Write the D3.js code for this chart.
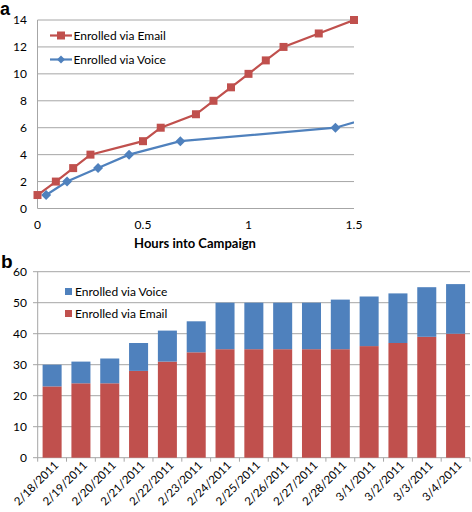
<!DOCTYPE html>
<html><head><meta charset="utf-8">
<script src="https://cdn.jsdelivr.net/npm/d3@7"></script>
<style>body{margin:0;background:#fff}svg{display:block;font-family:Lato,"Open Sans",sans-serif}</style>
</head><body>
<script>
// Panel a data
const emailHours = [0,0.087,0.169,0.251,0.50,0.584,0.751,0.834,0.917,1.0,1.082,1.166,1.333,1.5];
const emailCount = [1,2,3,4,5,6,7,8,9,10,11,12,13,14];
const voiceHours = [0.041,0.14,0.287,0.434,0.677,1.412,1.63];
const voiceCount = [1,2,3,4,5,6,7];
const xTicksA = [0,0.5,1,1.5];
const yTicksA = [0,2,4,6,8,10,12,14];
// Panel b data
const dates = ["2/18/2011","2/19/2011","2/20/2011","2/21/2011","2/22/2011","2/23/2011","2/24/2011","2/25/2011","2/26/2011","2/27/2011","2/28/2011","3/1/2011","3/2/2011","3/3/2011","3/4/2011"];
const emailDaily = [23,24,24,28,31,34,35,35,35,35,35,36,37,39,40];
const voiceDaily = [7,7,8,9,10,10,15,15,15,15,16,16,16,16,16];
const yTicksB = [0,10,20,30,40,50,60];

const RED="#C0504D", BLUE="#4F81BD", GRID="#A6A6A6";
const W=472,H=512;
const svg=d3.select("body").append("svg").attr("width",W).attr("height",H);

// ---------- Panel a ----------
const xa=d3.scaleLinear().domain([0,1.5]).range([37.5,354]);
const ya=d3.scaleLinear().domain([0,14]).range([208.5,20]);
svg.append("text").attr("x",0).attr("y",15).text("a").attr("font-weight","bold").attr("font-size",18).attr("font-family","Arial,Liberation Sans,sans-serif");
const ga=svg.append("g");
ga.selectAll("line.grid").data(yTicksA).join("line").attr("x1",xa(0)).attr("x2",xa(1.5))
 .attr("y1",d=>ya(d)).attr("y2",d=>ya(d)).attr("stroke",GRID).attr("stroke-width",1);
ga.append("line").attr("x1",xa(0)).attr("x2",xa(0)).attr("y1",ya(0)).attr("y2",ya(14)).attr("stroke",GRID);
ga.selectAll("text.yt").data(yTicksA).join("text").attr("x",27).attr("y",d=>ya(d)+4).attr("text-anchor","end")
 .attr("font-size",12).attr("fill","#000").text(d=>d);
ga.selectAll("text.xt").data(xTicksA).join("text").attr("x",d=>xa(d)).attr("y",229).attr("text-anchor","middle")
 .attr("font-size",12).attr("fill","#000").text(d=>d);
svg.append("text").attr("x",195).attr("y",248).attr("text-anchor","middle").attr("font-weight","bold").attr("font-size",13).text("Hours into Campaign");

svg.append("clipPath").attr("id","clipA").append("rect").attr("x",xa(0)-6).attr("y",0).attr("width",xa(1.5)-xa(0)+6).attr("height",230);
const plotA=svg.append("g").attr("clip-path","url(#clipA)");
const line=d3.line().x(d=>xa(d[0])).y(d=>ya(d[1]));
const emailPts=emailHours.map((h,i)=>[h,emailCount[i]]);
const voicePts=voiceHours.map((h,i)=>[h,voiceCount[i]]);
plotA.append("path").datum(voicePts).attr("d",line).attr("fill","none").attr("stroke",BLUE).attr("stroke-width",2.2);
plotA.append("path").datum(emailPts).attr("d",line).attr("fill","none").attr("stroke",RED).attr("stroke-width",2.2);
const sq=d3.symbol().type(d3.symbolSquare).size(64);
const dm=d3.symbol().type(d3.symbolSquare).size(50);
plotA.selectAll("path.vm").data(voicePts).join("path").attr("transform",d=>`translate(${xa(d[0])},${ya(d[1])}) rotate(45)`).attr("d",dm).attr("fill",BLUE);
svg.selectAll("path.em").data(emailPts).join("path").attr("transform",d=>`translate(${xa(d[0])},${ya(d[1])})`).attr("d",sq).attr("fill",RED);
// legend a
const legA=[{n:"Enrolled via Email",c:RED,s:sq,r:0,y:35.5},{n:"Enrolled via Voice",c:BLUE,s:d3.symbol().type(d3.symbolSquare).size(32),r:45,y:59.5}];
legA.forEach(l=>{
  svg.append("line").attr("x1",50).attr("x2",72).attr("y1",l.y).attr("y2",l.y).attr("stroke",l.c).attr("stroke-width",2.2);
  svg.append("path").attr("transform",`translate(61,${l.y}) rotate(${l.r})`).attr("d",l.s).attr("fill",l.c);
  svg.append("text").attr("x",73.5).attr("y",l.y+4.5).attr("font-size",12).text(l.n);
});

// ---------- Panel b ----------
svg.append("text").attr("x",1).attr("y",268).text("b").attr("font-weight","bold").attr("font-size",19).attr("font-family","Arial,Liberation Sans,sans-serif");
const xb=d3.scaleBand().domain(dates).range([37.7,470]).paddingInner(0.34).paddingOuter(0.17);
const yb=d3.scaleLinear().domain([0,60]).range([457.7,271.7]);
const gb=svg.append("g");
gb.selectAll("line.grid").data(yTicksB).join("line").attr("x1",33).attr("x2",470)
 .attr("y1",d=>yb(d)).attr("y2",d=>yb(d)).attr("stroke",GRID);
gb.append("line").attr("x1",37.7).attr("x2",37.7).attr("y1",yb(0)).attr("y2",yb(60)).attr("stroke",GRID);
gb.selectAll("text.yt").data(yTicksB).join("text").attr("x",27).attr("y",d=>yb(d)+4).attr("text-anchor","end")
 .attr("font-size",12).text(d=>d);
const step=xb.step();
const bounds=d3.range(dates.length+1).map(i=>37.7+i*step);
gb.selectAll("line.xt").data(bounds).join("line").attr("x1",d=>d).attr("x2",d=>d).attr("y1",yb(0)).attr("y2",yb(0)+4).attr("stroke",GRID);
const stackData=dates.map((d,i)=>({date:d,email:emailDaily[i],voice:voiceDaily[i]}));
const series=d3.stack().keys(["email","voice"])(stackData);
const colors={email:RED,voice:BLUE};
series.forEach(s=>{
  gb.selectAll(null).data(s).join("rect").attr("x",d=>xb(d.data.date)).attr("width",xb.bandwidth())
   .attr("y",d=>yb(d[1])).attr("height",d=>yb(d[0])-yb(d[1])).attr("fill",colors[s.key]);
});
gb.selectAll("text.xl").data(dates).join("text")
 .attr("transform",d=>`translate(${xb(d)+xb.bandwidth()/2+7},${466}) rotate(-45)`)
 .attr("text-anchor","end").attr("font-size",11.5).text(d=>d);
// legend b
const legB=[{n:"Enrolled via Voice",c:BLUE,y:291.5},{n:"Enrolled via Email",c:RED,y:313.5}];
legB.forEach(l=>{
  svg.append("rect").attr("x",65).attr("y",l.y-3.5).attr("width",7).attr("height",7).attr("fill",l.c);
  svg.append("text").attr("x",75).attr("y",l.y+4.5).attr("font-size",12).text(l.n);
});
</script>
</body></html>
